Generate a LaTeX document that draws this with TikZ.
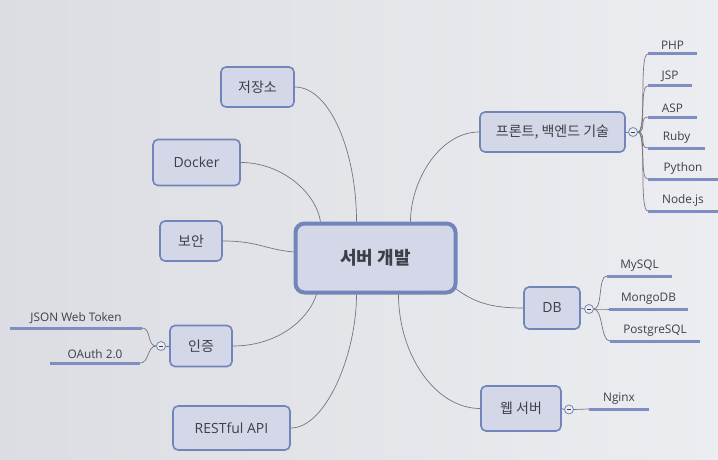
\documentclass[tikz,border=0pt]{standalone}
\usepackage{fontspec}
\setmainfont{Open Sans}
\newfontfamily\kr{Noto Sans CJK KR}
\definecolor{bgl}{HTML}{DCDDE2}
\definecolor{bgr}{HTML}{ECEDF1}
\definecolor{boxfill}{HTML}{D3D7E7}
\definecolor{boxline}{HTML}{7185BB}
\definecolor{txt}{HTML}{3E3F48}
\definecolor{conncol}{HTML}{74767D}
\definecolor{ulcol}{HTML}{7F8EC2}
\tikzset{
  topic/.style={draw=boxline, fill=boxfill, line width=1.6pt, rounded corners=5pt,
    text=txt, font=\fontsize{14}{16}\selectfont, inner sep=0pt},
  central/.style={topic, line width=4pt, rounded corners=9pt, font=\kr\bfseries\fontsize{18}{20}\selectfont},
  toggle/.style={circle, draw=boxline, fill=bgr, line width=0.8pt, minimum size=9pt, inner sep=0pt,
    path picture={\draw[txt, line width=0.5pt] ([xshift=-2.2pt]path picture bounding box.center) -- ([xshift=2.2pt]path picture bounding box.center);}},
  leaf/.style={font=\fontsize{11.8}{13}\selectfont, text=txt, inner xsep=0pt, inner ysep=4.5pt, anchor=south},
  conn/.style={draw=conncol, line width=0.7pt},
  uline/.style={draw=ulcol, line width=3pt},
}
\begin{document}
\begin{tikzpicture}[x=1pt,y=-1pt]
\useasboundingbox (0,0) rectangle (718,460);
\shade[left color=bgl, right color=bgr] (0,0) rectangle (718,460);

% topics
\node[topic, minimum width=73pt, minimum height=40pt] (sto) at (257.5,87) {\kr 저장소};
\node[topic, minimum width=87pt, minimum height=46pt] (dock) at (196.5,162.5) {Docker};
\node[topic, minimum width=62pt, minimum height=40pt] (sec) at (191,241) {\kr 보안};
\node[central, minimum width=160pt, minimum height=69pt] (main) at (375.5,258) {서버 개발};
\node[topic, minimum width=62pt, minimum height=41pt] (auth) at (201,346) {\kr 인증};
\node[topic, minimum width=117pt, minimum height=44pt] (rest) at (231.5,428) {RESTful API};
\node[topic, minimum width=145pt, minimum height=40pt] (fb) at (552.5,132) {\kr 프론트, 백엔드 기술};
\node[topic, minimum width=56pt, minimum height=42pt] (db) at (552,308) {DB};
\node[topic, minimum width=80pt, minimum height=45pt] (web) at (521,408.5) {\kr 웹 서버};

% toggles
\node[toggle] (fbt) at (633,132) {};
\node[toggle] (dbt) at (589,309) {};
\node[toggle] (webt) at (569,409.5) {};
\node[toggle] (autht) at (161,346) {};

% leaves
\node[leaf, minimum width=49pt] (php) at (672.5,54) {PHP};
\node[leaf, minimum width=44pt] (jsp) at (670,86) {JSP};
\node[leaf, minimum width=49pt] (asp) at (672.5,117) {ASP};
\node[leaf, minimum width=57pt] (ruby) at (676.5,148) {Ruby};
\node[leaf, minimum width=70pt] (py) at (683,179) {Python};
\node[leaf, minimum width=70pt] (nodejs) at (683,211) {Node.js};
\node[leaf, minimum width=65pt] (mysql) at (639.5,276) {MySQL};
\node[leaf, minimum width=79pt] (mongo) at (648.5,309) {MongoDB};
\node[leaf, minimum width=90pt] (pg) at (655,341) {PostgreSQL};
\node[leaf, minimum width=60pt] (nginx) at (619,409) {Nginx};
\node[leaf, minimum width=132pt] (jwt) at (76,328) {JSON Web Token};
\node[leaf, minimum width=90pt] (oauth) at (95,363) {OAuth 2.0};

% main connectors
\begin{scope}[conn]
\draw (sto.east) .. controls +(35,0) and +(0,-70) .. ([xshift=63pt]main.north west);
\draw (dock.east) .. controls +(40,0) and +(-5,-30) .. ([xshift=27pt]main.north west);
\draw (sec.east) .. controls +(35,0) and +(-30,-3) .. ([yshift=6pt]main.west);
\draw (auth.east) .. controls +(45,0) and +(-8,25) .. ([xshift=23pt]main.south west);
\draw (rest.east) .. controls +(35,0) and +(0,60) .. ([xshift=63pt]main.south west);
\draw ([xshift=117pt]main.north west) .. controls +(0,-40) and +(-40,0) .. (fb.west);
\draw ([xshift=-2pt,yshift=6pt]main.south east) .. controls +(20,15) and +(-30,0) .. (db.west);
\draw ([xshift=105pt]main.south west) .. controls +(0,60) and +(-45,0) .. (web.west);

\draw (fb.east) -- (fbt.west);
\draw (db.east) -- (dbt.west);
\draw (web.east) -- (webt.west);
\draw (auth.west) -- (autht.east);

\foreach \l in {php,jsp,asp,ruby,py,nodejs}
  \draw (fbt.east) .. controls +(9,0) and +(-9,0) .. (\l.south west);
\foreach \l in {mysql,mongo,pg}
  \draw (dbt.east) .. controls +(9,0) and +(-9,0) .. (\l.south west);
\draw (webt.east) -- (nginx.south west);
\foreach \l in {jwt,oauth}
  \draw (autht.west) .. controls +(-9,0) and +(9,0) .. (\l.south east);
\end{scope}

\foreach \l in {php,jsp,asp,ruby,py,nodejs,mysql,mongo,pg,nginx,jwt,oauth}
  \draw[uline] (\l.south west) -- (\l.south east);
\end{tikzpicture}
\end{document}
